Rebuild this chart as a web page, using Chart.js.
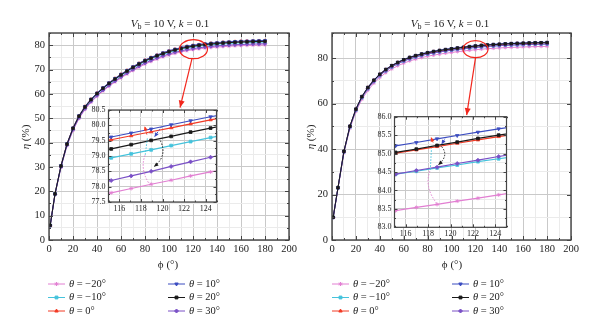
<!DOCTYPE html>
<html>
<head>
<meta charset="utf-8">
<script src="https://cdn.jsdelivr.net/npm/chart.js@4.4.0/dist/chart.umd.min.js"></script>
<style>
  body { margin: 0; background: #fff; width: 600px; height: 335px; overflow: hidden; position: relative;
         font-family: "Liberation Serif", serif; color: #222; }
  canvas { position: absolute; }
  .t { position: absolute; white-space: nowrap; transform: translate(-50%, -50%); font-size: 11px; line-height: 1; }
  .t sub { font-size: 8px; vertical-align: -2px; }
  .yt { transform: translate(-50%, -50%) rotate(-90deg); }
</style>
</head>
<body>
<canvas id="mainL" width="300" height="335" style="left:0;top:0"></canvas>
<canvas id="mainR" width="300" height="335" style="left:300px;top:0"></canvas>
<canvas id="insetL" width="145" height="120" style="left:80px;top:100px"></canvas>
<canvas id="insetR" width="150" height="135" style="left:365px;top:106px"></canvas>

<div class="t" style="left:170px;top:24px"><i>V</i><sub>b</sub> = 10 V, <i>k</i> = 0.1</div>
<div class="t" style="left:450px;top:24px"><i>V</i><sub>b</sub> = 16 V, <i>k</i> = 0.1</div>
<div class="t" style="left:168px;top:264px">ϕ (°)</div>
<div class="t" style="left:452px;top:264px">ϕ (°)</div>
<div class="t yt" style="left:25px;top:137px"><i>η</i> (%)</div>
<div class="t yt" style="left:310px;top:137px"><i>η</i> (%)</div>

<script>
// ---- data ----
const thetaLabels = ['−20°', '−10°', '0°', '10°', '20°', '30°'];
const colors = ['#e27fd2', '#45c3dc', '#f23a24', '#3b4cc0', '#1a1a1a', '#7a50c6'];
const marks = ['star', 'rect', 'triangle', 'triangle', 'rect', 'rectRot'];
const rots = [0, 0, 0, 180, 0, 0];
const drawOrder = [5, 4, 3, 1, 0, 2];

const phi = [1, 5, 10, 15, 20, 25, 30, 35, 40, 45, 50, 55, 60, 65, 70, 75, 80, 85, 90, 95,
             100, 105, 110, 115, 120, 125, 130, 135, 140, 145, 150, 155, 160, 165, 170, 175, 180];

// Vb = 10 V
const leftM20 = [5.87,18.59,29.84,38.65,45.01,49.90,53.62,56.56,59.00,61.15,63.11,64.87,66.54,68.10,69.57,70.94,72.21,73.29,74.27,75.15,75.93,76.61,77.20,77.74,78.13,78.47,78.77,79.01,79.21,79.40,79.55,79.70,79.79,79.89,79.99,80.04,80.09];
const leftM10 = [5.96,18.86,30.28,39.21,45.67,50.63,54.40,57.38,59.86,62.05,64.03,65.82,67.51,69.09,70.58,71.97,73.26,74.36,75.35,76.24,77.04,77.73,78.33,78.87,79.27,79.62,79.92,80.16,80.36,80.56,80.71,80.86,80.96,81.06,81.16,81.21,81.26];
const left0   = [6.00,19.00,30.50,39.50,46.00,51.00,54.80,57.80,60.30,62.50,64.50,66.30,68.00,69.60,71.10,72.50,73.80,74.90,75.90,76.80,77.60,78.30,78.90,79.45,79.85,80.20,80.50,80.75,80.95,81.15,81.30,81.45,81.55,81.65,81.75,81.80,81.85];
const left10  = [6.01,19.02,30.54,39.55,46.06,51.06,54.87,57.87,60.38,62.58,64.58,66.38,68.09,69.69,71.19,72.59,73.89,74.99,75.99,76.90,77.70,78.40,79.00,79.55,79.95,80.30,80.60,80.85,81.05,81.25,81.40,81.55,81.65,81.75,81.85,81.90,81.95];
const left20  = [5.98,18.94,30.40,39.37,45.84,50.83,54.61,57.60,60.10,62.29,64.28,66.08,67.77,69.36,70.86,72.25,73.55,74.65,75.64,76.54,77.34,78.04,78.63,79.18,79.58,79.93,80.23,80.48,80.68,80.88,81.03,81.17,81.27,81.37,81.47,81.52,81.57];
const left30  = [5.91,18.70,30.02,38.88,45.28,50.20,53.94,56.90,59.36,61.52,63.49,65.26,66.94,68.51,69.99,71.37,72.65,73.73,74.71,75.60,76.39,77.07,77.67,78.21,78.60,78.94,79.24,79.49,79.68,79.88,80.03,80.18,80.27,80.37,80.47,80.52,80.57];

// Vb = 16 V
const rightM20 = [9.82,22.57,38.28,49.08,56.44,61.83,65.76,68.90,71.45,73.51,75.18,76.56,77.73,78.72,79.50,80.19,80.78,81.27,81.71,82.10,82.45,82.79,83.08,83.38,83.64,83.89,84.09,84.27,84.43,84.57,84.68,84.78,84.87,84.95,85.02,85.08,85.13];
const rightM10 = [9.93,22.84,38.73,49.66,57.10,62.57,66.54,69.72,72.30,74.38,76.07,77.46,78.65,79.65,80.44,81.14,81.73,82.23,82.68,83.07,83.42,83.77,84.07,84.36,84.63,84.88,85.09,85.27,85.43,85.57,85.68,85.78,85.87,85.95,86.02,86.08,86.13];
const right0   = [10.00,23.00,39.00,50.00,57.50,63.00,67.00,70.20,72.80,74.90,76.60,78.00,79.20,80.20,81.00,81.70,82.30,82.80,83.25,83.65,84.00,84.35,84.65,84.95,85.22,85.47,85.68,85.86,86.02,86.16,86.28,86.38,86.47,86.55,86.62,86.68,86.73];
const right10  = [10.02,23.05,39.09,50.12,57.64,63.15,67.16,70.36,72.97,75.08,76.78,78.18,79.39,80.39,81.19,81.89,82.49,82.99,83.45,83.85,84.20,84.55,84.85,85.15,85.42,85.67,85.88,86.06,86.22,86.36,86.48,86.58,86.67,86.75,86.82,86.88,86.93];
const right20  = [10.00,23.01,39.01,50.02,57.52,63.02,67.02,70.22,72.83,74.93,76.63,78.03,79.23,80.23,81.03,81.73,82.33,82.83,83.28,83.68,84.03,84.38,84.68,84.98,85.25,85.50,85.71,85.89,86.05,86.19,86.31,86.41,86.50,86.58,86.65,86.71,86.76];
const right30  = [9.93,22.85,38.74,49.67,57.12,62.59,66.56,69.74,72.32,74.41,76.10,77.49,78.68,79.67,80.47,81.16,81.76,82.26,82.70,83.10,83.45,83.80,84.10,84.39,84.66,84.91,85.12,85.30,85.46,85.60,85.71,85.81,85.90,85.98,86.05,86.11,86.16];

// zoomed insets
const insetPhiL = [113.4, 115.25, 117.1, 118.95, 120.8, 122.6, 124.45, 126.3];
const insetLM20 = [77.66, 77.80, 77.94, 78.08, 78.21, 78.35, 78.48, 78.60];
const insetLM10 = [78.81, 78.94, 79.07, 79.20, 79.34, 79.47, 79.60, 79.72];
const insetL0   = [79.40, 79.53, 79.66, 79.79, 79.92, 80.05, 80.18, 80.30];
const insetL10  = [79.49, 79.62, 79.75, 79.88, 80.02, 80.15, 80.28, 80.40];
const insetL20  = [79.09, 79.23, 79.37, 79.51, 79.64, 79.78, 79.91, 80.03];
const insetL30  = [78.05, 78.20, 78.35, 78.50, 78.66, 78.81, 78.96, 79.10];

const insetPhiR = [113.25, 115.1, 116.95, 118.8, 120.6, 122.45, 124.3, 126.15];
const insetRM20 = [83.36, 83.45, 83.54, 83.62, 83.71, 83.79, 83.88, 83.96];
const insetRM10 = [84.35, 84.44, 84.52, 84.61, 84.69, 84.78, 84.86, 84.94];
const insetR0   = [84.92, 85.01, 85.10, 85.19, 85.28, 85.37, 85.46, 85.55];
const insetR10  = [85.12, 85.21, 85.30, 85.40, 85.49, 85.58, 85.67, 85.76];
const insetR20  = [84.94, 85.03, 85.12, 85.22, 85.31, 85.41, 85.50, 85.59];
const insetR30  = [84.34, 84.44, 84.54, 84.63, 84.73, 84.82, 84.92, 85.02];

// ---- helpers / plugins ----
const serif = '"Liberation Serif", "DejaVu Serif", serif';
const isMajor = (v, step) => Math.abs(v / step - Math.round(v / step)) < 1e-6;

function arrowHead(ctx, x0, y0, x1, y1, len, w) {
  const a = Math.atan2(y1 - y0, x1 - x0);
  ctx.beginPath();
  ctx.moveTo(x1, y1);
  ctx.lineTo(x1 - len * Math.cos(a) + w * Math.sin(a), y1 - len * Math.sin(a) - w * Math.cos(a));
  ctx.lineTo(x1 - len * Math.cos(a) - w * Math.sin(a), y1 - len * Math.sin(a) + w * Math.cos(a));
  ctx.closePath();
  ctx.fill();
}

const whiteArea = {
  id: 'whiteArea',
  beforeDraw(chart) {
    const a = chart.chartArea, ctx = chart.ctx;
    ctx.save();
    ctx.fillStyle = '#fff';
    ctx.fillRect(a.left, a.top, a.right - a.left, a.bottom - a.top);
    ctx.restore();
  }
};

const frame = {
  id: 'frame',
  afterDatasetsDraw(chart, args, o) {
    const { ctx, chartArea: a, scales } = chart;
    ctx.save();
    ctx.strokeStyle = o.color;
    ctx.lineWidth = 1;
    ctx.beginPath();
    scales.x.ticks.forEach(t => {
      const px = Math.round(scales.x.getPixelForValue(t.value)) + 0.5;
      const len = t.label === '' ? o.minor : o.major;
      ctx.moveTo(px, a.bottom); ctx.lineTo(px, a.bottom - len);
      ctx.moveTo(px, a.top); ctx.lineTo(px, a.top + len);
    });
    scales.y.ticks.forEach(t => {
      const py = Math.round(scales.y.getPixelForValue(t.value)) + 0.5;
      const len = t.label === '' ? o.minor : o.major;
      ctx.moveTo(a.left, py); ctx.lineTo(a.left + len, py);
      ctx.moveTo(a.right, py); ctx.lineTo(a.right - len, py);
    });
    ctx.stroke();
    ctx.lineWidth = o.width;
    ctx.strokeRect(a.left, a.top, a.right - a.left, a.bottom - a.top);
    ctx.restore();
  }
};

const thetaLegend = {
  id: 'thetaLegend',
  afterDraw(chart, args, o) {
    if (!o || !o.cols) return;
    const ctx = chart.ctx;
    chart.data.datasets.forEach((ds, i) => {
      const x = o.cols[Math.floor(i / 3)], y = o.rows[i % 3];
      ctx.save();
      ctx.strokeStyle = ds.borderColor;
      ctx.fillStyle = ds.backgroundColor;
      ctx.lineWidth = 1;
      ctx.beginPath(); ctx.moveTo(x, y); ctx.lineTo(x + 17, y); ctx.stroke();
      if (Chart.helpers && Chart.helpers.drawPoint) {
        Chart.helpers.drawPoint(ctx, { pointStyle: ds.pointStyle, rotation: ds.pointRotation || 0, radius: 2, borderWidth: 1 }, x + 8.5, y);
      }
      ctx.fillStyle = '#222';
      ctx.textBaseline = 'middle';
      ctx.font = 'italic 10.5px ' + serif;
      let tx = x + 21;
      ctx.fillText('θ', tx, y);
      tx += ctx.measureText('θ').width;
      ctx.font = '10.5px ' + serif;
      ctx.fillText(' = ' + ds.label, tx, y);
      ctx.restore();
    });
  }
};

const callout = {
  id: 'callout',
  afterDraw(chart, args, o) {
    if (!o || !o.at) return;
    const { ctx, scales: { x, y } } = chart;
    const cx = x.getPixelForValue(o.at[0]), cy = y.getPixelForValue(o.at[1]);
    const x1 = x.getPixelForValue(o.tip[0]), y1 = y.getPixelForValue(o.tip[1]);
    const x0 = cx + o.dx, y0 = cy + o.ry;
    ctx.save();
    ctx.strokeStyle = '#f2261c';
    ctx.fillStyle = '#f2261c';
    ctx.lineWidth = 1.2;
    ctx.beginPath(); ctx.ellipse(cx, cy, o.rx, o.ry, 0, 0, Math.PI * 2); ctx.stroke();
    ctx.beginPath(); ctx.moveTo(x0, y0); ctx.lineTo(x1, y1); ctx.stroke();
    arrowHead(ctx, x0, y0, x1, y1, 7, 3);
    ctx.restore();
  }
};

// dotted curved arrows inside the insets
const loops = {
  id: 'loops',
  afterDatasetsDraw(chart, args, o) {
    if (!o || !o.segs) return;
    const { ctx, scales: { x, y } } = chart;
    ctx.save();
    o.segs.forEach(s => {
      const p = s.pts.map(q => [x.getPixelForValue(q[0]), y.getPixelForValue(q[1])]);
      ctx.strokeStyle = s.color; ctx.fillStyle = s.color;
      ctx.lineWidth = 1;
      ctx.setLineDash([1.5, 1.5]);
      ctx.beginPath();
      ctx.moveTo(p[0][0], p[0][1]);
      if (p.length === 3) ctx.quadraticCurveTo(p[1][0], p[1][1], p[2][0], p[2][1]);
      else ctx.lineTo(p[1][0], p[1][1]);
      ctx.stroke();
      ctx.setLineDash([]);
      if (s.head) {
        const n = p.length;
        arrowHead(ctx, p[n - 2][0], p[n - 2][1], p[n - 1][0], p[n - 1][1], 4.5, 2);
      }
    });
    ctx.restore();
  }
};

function makeDatasets(xs, series, radius, width) {
  return series.map((vals, i) => ({
    label: thetaLabels[i],
    data: xs.map((p, j) => ({ x: p, y: vals[j] })),
    borderColor: colors[i],
    backgroundColor: colors[i],
    borderWidth: width,
    pointRadius: radius,
    pointStyle: marks[i],
    pointRotation: rots[i],
    pointBorderWidth: 0.8,
    order: drawOrder[i],
    tension: 0
  }));
}

function axis(min, max, minor, major, fixed, fontSize, pad, fmt, horizontal) {
  return {
    type: 'linear', min: min, max: max,
    afterFit: s => { if (horizontal) s.height = fixed; else s.width = fixed; },
    border: { display: false },
    grid: {
      drawTicks: false, lineWidth: 1,
      color: c => isMajor(c.tick.value, major) ? '#c9c9c9' : '#ebebeb'
    },
    ticks: {
      stepSize: minor, autoSkip: false, maxRotation: 0, padding: pad, color: '#222',
      font: { family: serif, size: fontSize },
      callback: v => isMajor(v, major) ? fmt(v) : ''
    }
  };
}

function mainChart(id, series, c) {
  return new Chart(document.getElementById(id), {
    type: 'line',
    data: { datasets: makeDatasets(phi, series, 1.8, 1) },
    options: {
      responsive: false, animation: false, devicePixelRatio: 1,
      layout: { padding: c.pad },
      plugins: {
        legend: { display: false }, tooltip: { enabled: false },
        frame: { color: '#444', width: 1.4, major: 4, minor: 2 },
        thetaLegend: c.legend, callout: c.callout
      },
      scales: {
        x: axis(0, 200, 10, 20, 14, 10.5, 3, v => v, true),
        y: axis(0, c.ymax, c.ystep / 2, c.ystep, c.yw, 10.5, 4, v => v, false)
      }
    },
    plugins: [frame, thetaLegend, callout]
  });
}

function insetChart(id, xs, series, c) {
  return new Chart(document.getElementById(id), {
    type: 'line',
    data: { datasets: makeDatasets(xs, series, 2, 1.2) },
    options: {
      responsive: false, animation: false, devicePixelRatio: 1,
      layout: { padding: c.pad },
      plugins: {
        legend: { display: false }, tooltip: { enabled: false },
        frame: { color: '#444', width: 1.2, major: 3, minor: 1.5 },
        loops: { segs: c.segs }
      },
      scales: {
        x: axis(115, 125, 1, 2, 12, 8, 2, v => v, true),
        y: axis(c.ymin, c.ymax, 0.25, 0.5, c.yw, 8, 3, v => v.toFixed(1), false)
      }
    },
    plugins: [whiteArea, frame, loops]
  });
}

mainChart('mainL', [leftM20, leftM10, left0, left10, left20, left30], {
  pad: { left: 0, top: 33, right: 11, bottom: 81 }, yw: 49, ymax: 85, ystep: 10,
  legend: { cols: [48, 168], rows: [284, 297.5, 311] },
  callout: { at: [120.4, 78.35], rx: 14, ry: 9.5, dx: -1.5, tip: [109.2, 54.4] }
});

mainChart('mainR', [rightM20, rightM10, right0, right10, right20, right30], {
  pad: { left: 0, top: 33, right: 29, bottom: 81 }, yw: 32, ymax: 91, ystep: 20,
  legend: { cols: [32, 152], rows: [284, 297.5, 311] },
  callout: { at: [120.1, 83.9], rx: 12.5, ry: 8.5, dx: 0, tip: [112.7, 54.9] }
});

insetChart('insetL', insetPhiL, [insetLM20, insetLM10, insetL0, insetL10, insetL20, insetL30], {
  pad: { left: 0, top: 10, right: 8.5, bottom: 6 }, yw: 28.5, ymin: 77.5, ymax: 80.5,
  segs: [
    { pts: [[118.7, 78.13], [117.9, 78.6], [118.4, 79.04]], color: colors[0] },
    { pts: [[118.4, 79.04], [118.6, 79.58]], color: colors[1] },
    { pts: [[118.55, 79.7], [118.35, 79.97]], color: colors[2], head: true },
    { pts: [[119.9, 79.95], [119.25, 79.62]], color: colors[3], head: true },
    { pts: [[119.8, 79.5], [120.5, 79.0], [119.2, 78.65]], color: colors[4], head: true }
  ]
});

insetChart('insetR', insetPhiR, [insetRM20, insetRM10, insetR0, insetR10, insetR20, insetR30], {
  pad: { left: 0, top: 10.7, right: 8.5, bottom: 1.7 }, yw: 29.5, ymin: 83, ymax: 86,
  segs: [
    { pts: [[118.77, 83.65], [117.6, 84.1], [118.2, 84.56]], color: colors[0] },
    { pts: [[118.2, 84.56], [118.3, 85.14]], color: colors[1] },
    { pts: [[118.45, 85.3], [118.25, 85.45]], color: colors[2], head: true },
    { pts: [[119.6, 85.45], [119.2, 85.25]], color: colors[3], head: true },
    { pts: [[119.2, 85.19], [119.9, 84.95], [118.9, 84.69]], color: colors[4], head: true }
  ]
});
</script>
</body>
</html>
